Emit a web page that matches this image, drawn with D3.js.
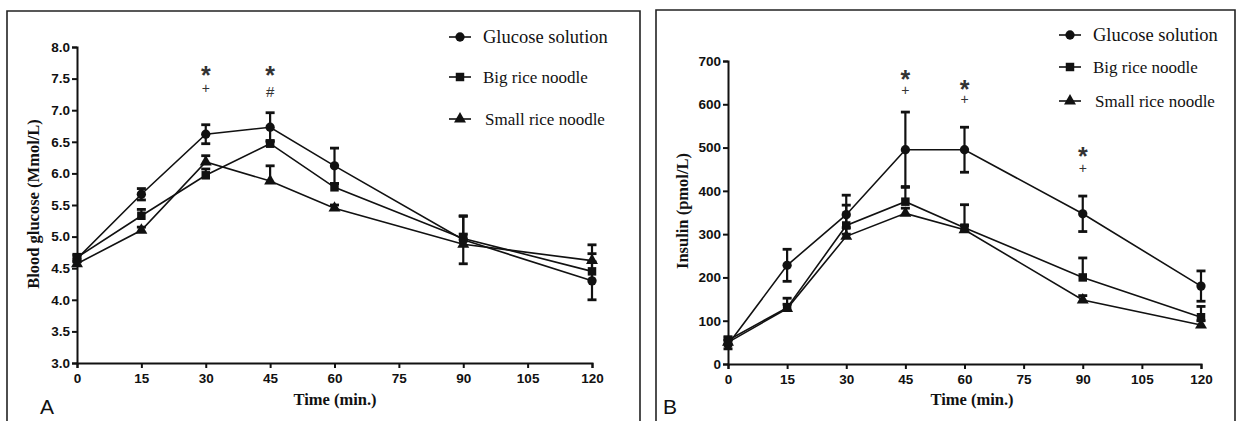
<!DOCTYPE html>
<html>
<head>
<meta charset="utf-8">
<script src="https://cdn.jsdelivr.net/npm/d3@7"></script>
<style>
  body { margin: 0; background: #fff; }
  svg { display: block; }
</style>
</head>
<body>
<div id="chart"></div>
<script>
// shared x categories (minutes)
const times = [0, 15, 30, 45, 60, 90, 120]
const seriesNames = ["Glucose solution", "Big rice noodle", "Small rice noodle"]

// panel A: blood glucose (mmol/L), mean and error
const glucoseA = [4.65, 5.67, 6.62, 6.73, 6.12, 4.95, 4.30]
const bigA = [4.67, 5.33, 5.97, 6.47, 5.78, 4.97, 4.45]
const smallA = [4.57, 5.10, 6.18, 5.88, 5.45, 4.88, 4.62]
const glucoseErrA = [0.05, 0.09, 0.15, 0.23, 0.28, 0.38, 0.30]
const bigErrA = [0.05, 0.10, 0.10, 0.05, 0.06, 0.35, 0.28]
const smallErrA = [0.04, 0.05, 0.10, 0.24, 0.05, 0.16, 0.25]
const yTicksA = [3.0, 3.5, 4.0, 4.5, 5.0, 5.5, 6.0, 6.5, 7.0, 7.5, 8.0]
const marksA = [
    {t: 30, v: 7.65, s: "*"}, {t: 30, v: 7.35, s: "+"},
    {t: 45, v: 7.65, s: "*"}, {t: 45, v: 7.30, s: "#"}
]

// panel B: insulin (pmol/L)
const glucoseB = [45, 228, 345, 495, 495, 347, 180]
const bigB = [55, 130, 320, 375, 315, 200, 108]
const smallB = [50, 128, 295, 348, 310, 148, 90]
const glucoseErrB = [10, 37, 45, 87, 52, 41, 35]
const bigErrB = [8, 22, 47, 35, 53, 45, 25]
const smallErrB = [6, 10, 20, 12, 10, 10, 10]
const yTicksB = [0, 100, 200, 300, 400, 500, 600, 700]
const marksB = [
    {t: 45, v: 672, s: "*"}, {t: 45, v: 633, s: "+"},
    {t: 60, v: 649, s: "*"}, {t: 60, v: 612, s: "+"},
    {t: 90, v: 494, s: "*"}, {t: 90, v: 453, s: "+"}
]

const W = 1238, H = 421
const svg = d3.select("#chart").append("svg").attr("width", W).attr("height", H)

const symbols = [d3.symbolCircle, d3.symbolSquare, d3.symbolTriangle]
const symSize = [68, 72, 62]

function panel(cfg) {
    const g = svg.append("g")

    // frame (open at the bottom)
    g.append("path")
        .attr("d", `M${cfg.frame[0]},${H + 2}V${cfg.frame[1]}H${cfg.frame[2]}V${H + 2}`)
        .attr("fill", "none").attr("stroke", "#222").attr("stroke-width", 1.6)

    const x = d3.scaleLinear().domain([0, 120]).range(cfg.xr)
    const y = d3.scaleLinear().domain(cfg.yd).range(cfg.yr)

    const xAxis = g.append("g").attr("transform", `translate(0,${cfg.yr[0]})`)
        .call(d3.axisBottom(x).tickValues(d3.range(0, 121, 15)).tickSizeOuter(0).tickSize(5).tickPadding(5))
    const yAxis = g.append("g").attr("transform", `translate(${cfg.xr[0]},0)`)
        .call(d3.axisLeft(y).tickValues(cfg.yTicks).tickFormat(cfg.fmt).tickSizeOuter(0).tickSize(5).tickPadding(2))
    for (const a of [xAxis, yAxis]) {
        a.attr("font-size", 13.5).attr("font-family", "'Liberation Sans', Arial, sans-serif")
        a.select(".domain").attr("stroke", "#111").attr("stroke-width", 2)
        a.selectAll(".tick line").attr("stroke", "#111").attr("stroke-width", 2)
        a.selectAll(".tick text").attr("font-weight", "bold").attr("fill", "#111")
    }

    // series: error bars (glucose both ways, noodles upward only), lines, markers
    cfg.series.forEach((s, i) => {
        const pts = times.map((t, k) => ({t, v: s.mean[k], e: s.err[k]}))
        const eb = g.append("g").attr("stroke", "#111").attr("stroke-width", 2.2)
        pts.forEach(p => {
            const lo = s.both ? p.v - p.e : p.v
            eb.append("line").attr("x1", x(p.t)).attr("x2", x(p.t))
                .attr("y1", y(lo)).attr("y2", y(p.v + p.e))
            const caps = s.both ? [p.v - p.e, p.v + p.e] : [p.v + p.e]
            for (const yy of caps) {
                eb.append("line").attr("x1", x(p.t) - 4.5).attr("x2", x(p.t) + 4.5)
                    .attr("y1", y(yy)).attr("y2", y(yy)).attr("stroke-width", 2.8)
            }
        })
        g.append("path").datum(pts)
            .attr("fill", "none").attr("stroke", "#111").attr("stroke-width", 1.6)
            .attr("d", d3.line().x(d => x(d.t)).y(d => y(d.v)))
        g.append("g").selectAll("path").data(pts).join("path")
            .attr("transform", d => `translate(${x(d.t)},${y(d.v)})`)
            .attr("d", d3.symbol(symbols[i], symSize[i]))
            .attr("fill", "#111")
    })

    // significance marks
    g.append("g").selectAll("text").data(cfg.marks).join("text")
        .attr("x", d => x(d.t)).attr("y", d => y(d.v))
        .attr("text-anchor", "middle").attr("dominant-baseline", "central")
        .attr("font-family", "'Liberation Sans', Arial, sans-serif")
        .attr("font-weight", d => d.s === "*" ? "bold" : "normal")
        .attr("font-size", d => d.s === "*" ? 25 : (d.s === "#" ? 15 : 14))
        .attr("dy", d => d.s === "*" ? 6 : 0)
        .attr("fill", "#333")
        .text(d => d.s)

    // legend
    const lg = g.append("g")
    seriesNames.forEach((n, i) => {
        const ly = cfg.legend.y[i]
        lg.append("line").attr("x1", cfg.legend.x).attr("x2", cfg.legend.x + 22)
            .attr("y1", ly).attr("y2", ly).attr("stroke", "#111").attr("stroke-width", 1.6)
        lg.append("path").attr("transform", `translate(${cfg.legend.x + 11},${ly})`)
            .attr("d", d3.symbol(symbols[i], symSize[i]))
            .attr("fill", "#111")
        lg.append("text").attr("x", cfg.legend.x + 34 + (i === 2 ? 2 : 0)).attr("y", ly)
            .attr("dominant-baseline", "central")
            .attr("font-family", "'Liberation Serif', 'Times New Roman', serif")
            .attr("font-size", i === 0 ? 18.5 : 17)
            .attr("fill", "#111")
            .text(n)
    })

    // axis titles
    g.append("text").attr("x", cfg.xTitle[0]).attr("y", cfg.xTitle[1])
        .attr("text-anchor", "middle")
        .attr("font-family", "'Liberation Serif', 'Times New Roman', serif")
        .attr("font-weight", "bold").attr("font-size", 16.5).attr("fill", "#111")
        .text("Time (min.)")
    g.append("text")
        .attr("transform", `translate(${cfg.yTitle[0]},${cfg.yTitle[1]}) rotate(-90)`)
        .attr("text-anchor", "middle").attr("dominant-baseline", "central")
        .attr("font-family", "'Liberation Serif', 'Times New Roman', serif")
        .attr("font-weight", "bold").attr("font-size", 16.5).attr("fill", "#111")
        .text(cfg.yLabel)

    // panel letter
    g.append("text").attr("x", cfg.letter[0]).attr("y", cfg.letter[1])
        .attr("font-family", "'Liberation Sans', Arial, sans-serif")
        .attr("font-size", 21).attr("fill", "#111")
        .text(cfg.letterText)
}

panel({
    frame: [7, 11, 640],
    xr: [77, 592], yd: [3, 8], yr: [363, 47],
    yTicks: yTicksA, fmt: d3.format(".1f"),
    series: [
        {mean: glucoseA, err: glucoseErrA, both: true},
        {mean: bigA, err: bigErrA},
        {mean: smallA, err: smallErrA}
    ],
    marks: marksA,
    legend: {x: 449, y: [37, 77, 119]},
    xTitle: [335, 405], yTitle: [33, 204],
    yLabel: "Blood glucose (Mmol/L)",
    letter: [40, 414], letterText: "A"
})

panel({
    frame: [656, 10, 1235],
    xr: [728, 1201], yd: [0, 700], yr: [364, 61],
    yTicks: yTicksB, fmt: d3.format("d"),
    series: [
        {mean: glucoseB, err: glucoseErrB, both: true},
        {mean: bigB, err: bigErrB},
        {mean: smallB, err: smallErrB}
    ],
    marks: marksB,
    legend: {x: 1059, y: [35, 67, 101]},
    xTitle: [972, 405], yTitle: [682, 211],
    yLabel: "Insulin (pmol/L)",
    letter: [663, 414], letterText: "B"
})
</script>
</body>
</html>
